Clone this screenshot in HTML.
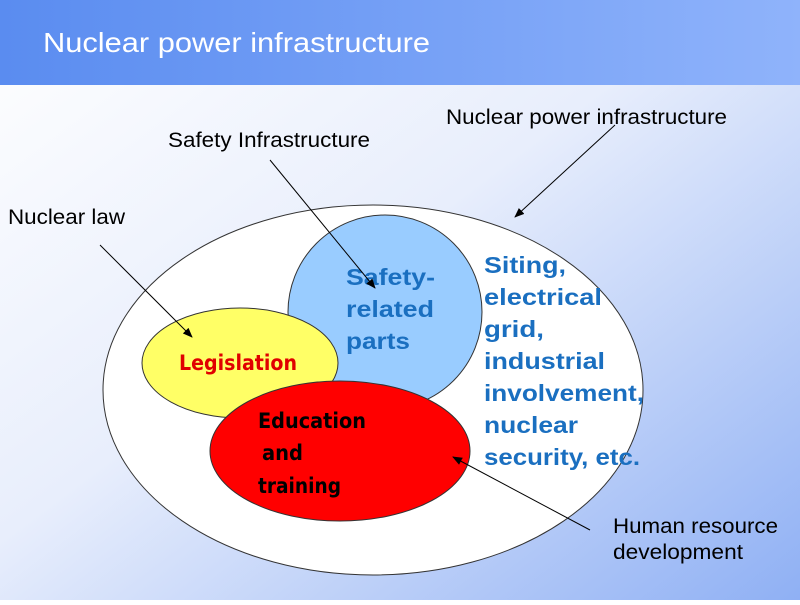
<!DOCTYPE html>
<html><head><meta charset="utf-8"><style>
body{margin:0;width:800px;height:600px;overflow:hidden;font-family:"Liberation Sans",sans-serif}
</style></head><body>
<svg width="800" height="600" xmlns="http://www.w3.org/2000/svg">
<defs>
<linearGradient id="bg" x1="0" y1="0" x2="1" y2="1">
<stop offset="0" stop-color="#ffffff"/><stop offset="0.45" stop-color="#e8eefc"/><stop offset="1" stop-color="#8fb0f4"/></linearGradient>
<linearGradient id="hd" x1="0" y1="0" x2="1" y2="0">
<stop offset="0" stop-color="#5a8cf0"/><stop offset="1" stop-color="#8fb3fb"/></linearGradient>
<marker id="a" markerWidth="10" markerHeight="8" refX="9" refY="4" orient="auto" markerUnits="userSpaceOnUse"><path d="M0,0L10,4L0,8z" fill="#000"/></marker>
</defs>
<rect width="800" height="600" fill="url(#bg)"/>
<rect width="800" height="85" fill="url(#hd)"/>
<text x="43" y="52" font-size="28" fill="#fff" textLength="387" lengthAdjust="spacingAndGlyphs">Nuclear power infrastructure</text>
<ellipse cx="373" cy="390" rx="270" ry="185" fill="#fff" stroke="#333" stroke-width="1"/>
<circle cx="385" cy="312" r="97" fill="#99ccff" stroke="#333"/>
<ellipse cx="240" cy="363" rx="98" ry="55" fill="#ffff66" stroke="#333"/>
<ellipse cx="340" cy="451" rx="130" ry="70" fill="#ff0000" stroke="#333"/>
<g font-size="23" fill="#1a6fc0" font-weight="bold">
<text x="346" y="285" textLength="89" lengthAdjust="spacingAndGlyphs">Safety-</text>
<text x="346" y="317" textLength="88" lengthAdjust="spacingAndGlyphs">related</text>
<text x="346" y="349" textLength="64" lengthAdjust="spacingAndGlyphs">parts</text>
<text x="484" y="273" textLength="82" lengthAdjust="spacingAndGlyphs">Siting,</text>
<text x="484" y="305" textLength="118" lengthAdjust="spacingAndGlyphs">electrical</text>
<text x="484" y="337" textLength="60" lengthAdjust="spacingAndGlyphs">grid,</text>
<text x="484" y="369" textLength="121" lengthAdjust="spacingAndGlyphs">industrial</text>
<text x="484" y="401" textLength="160" lengthAdjust="spacingAndGlyphs">involvement,</text>
<text x="484" y="433" textLength="94" lengthAdjust="spacingAndGlyphs">nuclear</text>
<text x="484" y="465" textLength="156" lengthAdjust="spacingAndGlyphs">security, etc.</text>
</g>
<text x="179" y="370" font-size="21" font-weight="bold" fill="#e00000" font-family="'DejaVu Sans',sans-serif" textLength="118" lengthAdjust="spacingAndGlyphs">Legislation</text>
<g font-size="21" font-weight="bold" fill="#000" font-family="'DejaVu Sans',sans-serif">
<text x="258" y="428" textLength="108" lengthAdjust="spacingAndGlyphs">Education</text>
<text x="262" y="460" textLength="41" lengthAdjust="spacingAndGlyphs">and</text>
<text x="258" y="493" textLength="83" lengthAdjust="spacingAndGlyphs">training</text></g>
<g font-size="21" fill="#000">
<text x="8" y="224" textLength="117" lengthAdjust="spacingAndGlyphs">Nuclear law</text>
<text x="168" y="147" textLength="202" lengthAdjust="spacingAndGlyphs">Safety Infrastructure</text>
<text x="446" y="124" textLength="281" lengthAdjust="spacingAndGlyphs">Nuclear power infrastructure</text>
<text x="613" y="533" textLength="165" lengthAdjust="spacingAndGlyphs">Human resource</text>
<text x="613" y="559" textLength="130" lengthAdjust="spacingAndGlyphs">development</text></g>
<g stroke="#000" stroke-width="1" marker-end="url(#a)">
<line x1="100" y1="245" x2="192" y2="337"/>
<line x1="270" y1="160" x2="375" y2="288"/>
<line x1="615" y1="125" x2="515" y2="217"/>
<line x1="590" y1="530" x2="453" y2="457"/>
</g>
</svg>
</body></html>
